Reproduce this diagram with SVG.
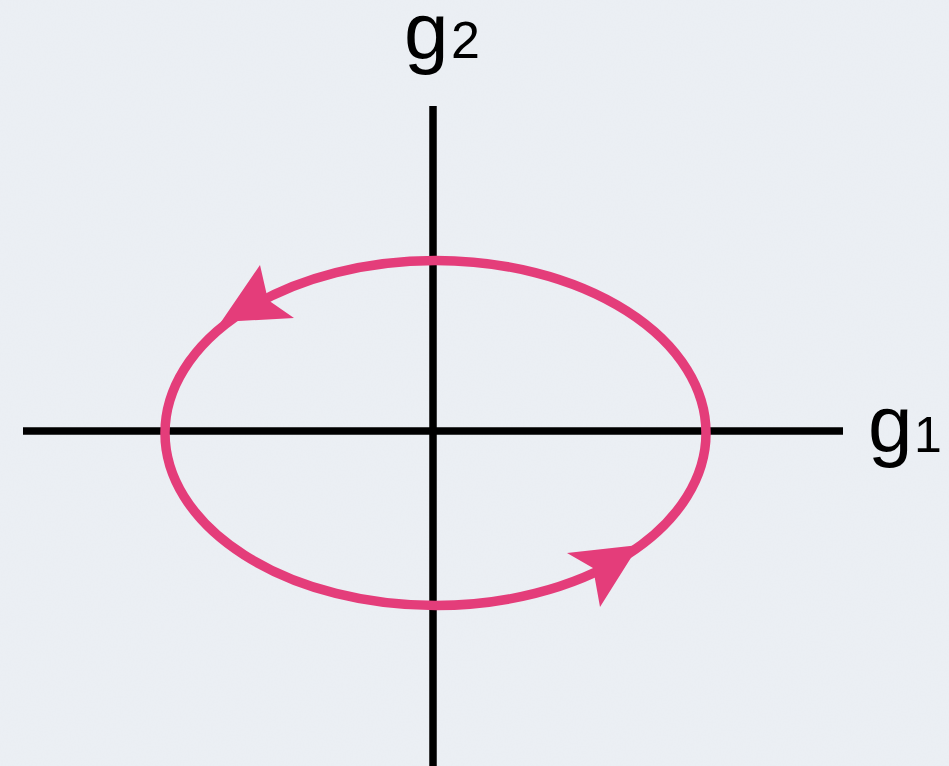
<svg xmlns="http://www.w3.org/2000/svg" width="949" height="766" viewBox="0 0 949 766">
<defs>
<filter id="paper" x="0" y="0" width="100%" height="100%">
<feTurbulence type="fractalNoise" baseFrequency="0.6" numOctaves="3" seed="4" result="n"/>
<feColorMatrix in="n" type="matrix" values="0 0 0 0 0.85  0 0 0 0 0.88  0 0 0 0 0.92  0 0 0 0.35 0"/>
</filter>
<style>
.axis{stroke:#000;stroke-width:7.5;fill:none}
.orbit{stroke:#e43d7a;stroke-width:9.5;fill:none}
.head{fill:#e43d7a}
.lbl{font-family:"Liberation Sans","DejaVu Sans",sans-serif;fill:#000}
</style>
</defs>
<rect width="949" height="766" fill="#eaeef3"/>
<rect width="949" height="766" filter="url(#paper)"/>
<g id="connectors">
<line class="axis" x1="23" y1="431" x2="843" y2="431"/>
<line class="axis" x1="433" y1="106" x2="433" y2="766"/>
</g>
<g id="orbit">
<ellipse class="orbit" cx="435.5" cy="433" rx="270.5" ry="172.5"/>
<polygon class="head" points="221,322 260,265 268,300 294,318"/>
<polygon class="head" points="639,545 567,553 593,568 600,607"/>
</g>
<g id="label-g2">
<text class="lbl" x="404" y="58" font-size="80">g</text>
<text class="lbl" x="451" y="58" font-size="52">2</text>
</g>
<g id="label-g1">
<text class="lbl" x="868" y="451" font-size="80">g</text>
<text class="lbl" x="914" y="452" font-size="50">1</text>
</g>
</svg>
